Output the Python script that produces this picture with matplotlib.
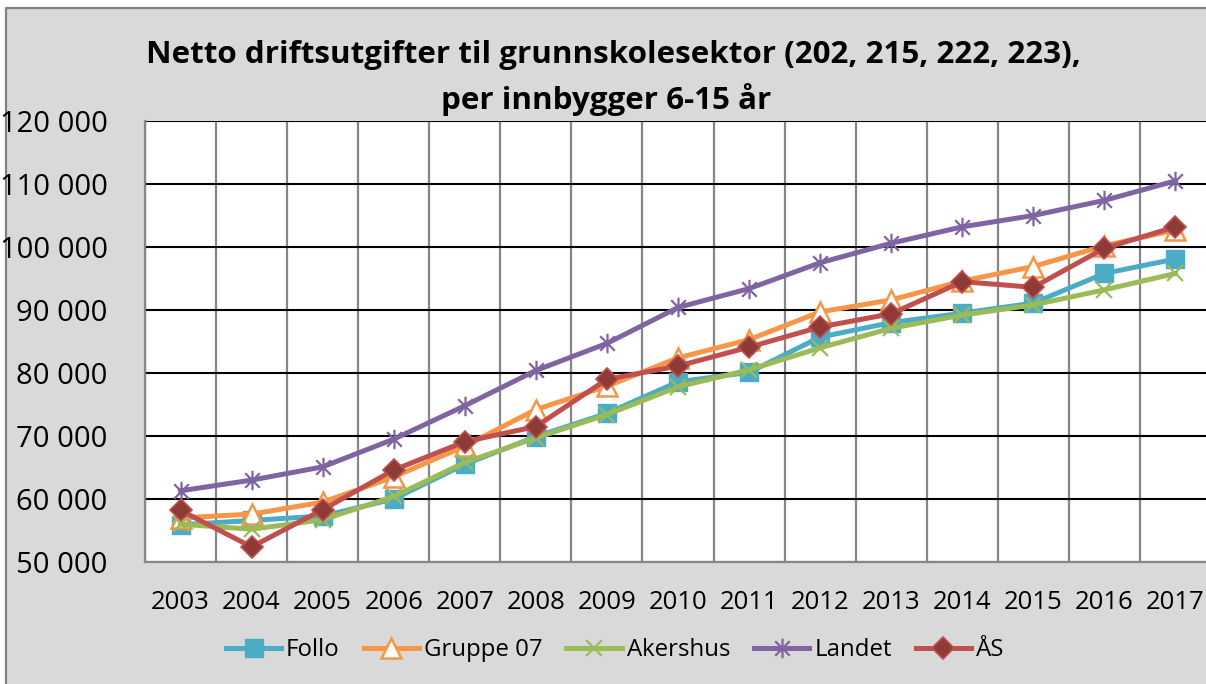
import matplotlib.pyplot as plt
from matplotlib.path import Path
from matplotlib.patches import Rectangle
from matplotlib.lines import Line2D
from matplotlib.ticker import FuncFormatter, FixedLocator

years = [str(y) for y in range(2003, 2018)]
follo = [55900, 56600, 57300, 60000, 65500, 69900, 73600, 78600, 80100, 85700, 88000, 89500, 91100, 95800, 98100]
gruppe07 = [57000, 57600, 59500, 63500, 68400, 74200, 77900, 82400, 85300, 89700, 91600, 94600, 96900, 100200, 102700]
akershus = [56000, 55200, 56700, 60400, 65800, 69700, 73400, 77800, 80500, 84000, 87100, 89200, 90800, 93200, 95800]
landet = [61300, 63000, 65100, 69500, 74800, 80400, 84700, 90400, 93400, 97500, 100600, 103200, 105000, 107400, 110500]
aas = [58200, 52400, 58300, 64600, 69100, 71500, 79000, 81100, 84100, 87300, 89400, 94500, 93600, 99800, 103200]
y_ticks = [50000, 60000, 70000, 80000, 90000, 100000, 110000, 120000]

plt.rcParams['font.family'] = ['Open Sans', 'DejaVu Sans']

W, H = 1206, 684
fig = plt.figure(figsize=(W / 100, H / 100), dpi=100, facecolor='white')

# chart area: grey, border only on left and top (rest is cut off)
fig.patches.append(Rectangle((6 / W, 0), 1 - 6 / W, 1 - 8 / H, transform=fig.transFigure,
                             facecolor='#D9D9D9', edgecolor='none', zorder=-5))
fig.lines.append(Line2D([6 / W, 6 / W, 1], [0, 1 - 8 / H, 1 - 8 / H], transform=fig.transFigure,
                        color='#808080', lw=1.6, zorder=-4))

ax = fig.add_axes([145 / W, (H - 562) / H, (1211 - 145) / W, (562 - 121) / H])
ax.set_facecolor('white')

star = Path([(0, -1), (0, 1), (-0.75, -0.75), (0.75, 0.75), (-0.75, 0.75), (0.75, -0.75)],
            [Path.MOVETO, Path.LINETO] * 3)

x = list(range(len(years)))
lw = 3.6
ax.plot(x, follo, color='#4BACC6', lw=lw, marker='s', ms=13, mfc='#4BACC6', mec='#4BACC6', label='Follo')
ax.plot(x, gruppe07, color='#F79646', lw=lw, marker='^', ms=15, mfc='white', mec='#F79646', mew=1.8, label='Gruppe 07')
ax.plot(x, akershus, color='#9BBB59', lw=lw, marker='x', ms=12, mec='#9BBB59', mew=1.6, label='Akershus')
ax.plot(x, landet, color='#8064A2', lw=lw, marker=star, ms=14, mec='#8064A2', mew=1.6, label='Landet')
ax.plot(x, aas, color='#C0504D', lw=lw, marker='D', ms=11, mfc='#8E3A37', mec='#C0504D', mew=1.2, label='ÅS')

ax.set_xlim(-0.5, len(years) - 0.5)
ax.set_ylim(50000, 120000)
ax.set_xticks(x)
ax.set_xticklabels(years, fontsize=18.5)
ax.xaxis.set_minor_locator(FixedLocator([i - 0.5 for i in range(len(years) + 1)]))
ax.set_yticks(y_ticks)
ax.yaxis.set_major_formatter(FuncFormatter(lambda v, p: f'{int(v):,}'.replace(',', ' ')))
ax.tick_params(axis='y', labelsize=21, length=0, pad=27)
ax.tick_params(axis='x', which='both', length=0, pad=20)

ax.grid(axis='y', which='major', color='black', lw=1.5)
ax.grid(axis='x', which='minor', color='#868686', lw=1.6)
ax.set_axisbelow(True)
for side in ['top', 'right']:
    ax.spines[side].set_visible(False)
ax.spines['left'].set_color('#868686')
ax.spines['left'].set_linewidth(1.6)
ax.spines['bottom'].set_color('#868686')
ax.spines['bottom'].set_linewidth(1.6)

fig.text(613 / W, 1 - 55 / H, 'Netto driftsutgifter til grunnskolesektor (202, 215, 222, 223),',
         ha='center', va='center', fontsize=22.6, fontweight='bold')
fig.text(606 / W, 1 - 100 / H, 'per innbygger 6-15 år',
         ha='center', va='center', fontsize=22.6, fontweight='bold')

fig.legend(loc='center', bbox_to_anchor=(615 / W, 1 - 650 / H), ncol=5, frameon=False,
           fontsize=17.3, handlelength=2.3, handletextpad=0.2, columnspacing=1.0)

fig.savefig('out.png', dpi=100, facecolor=fig.get_facecolor())
